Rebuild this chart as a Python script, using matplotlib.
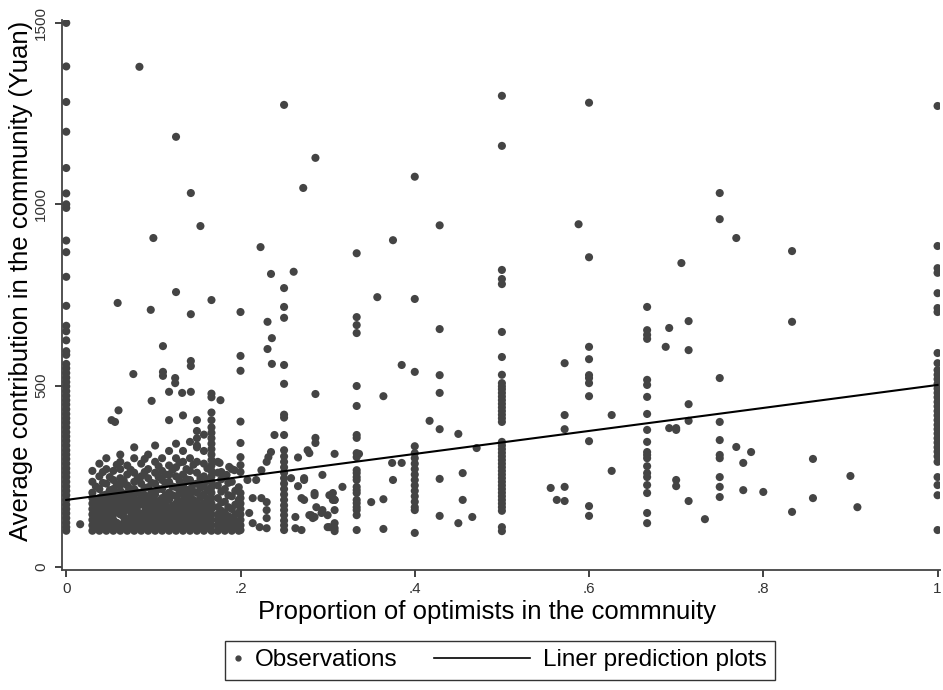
import matplotlib.pyplot as plt
from matplotlib.lines import Line2D
from matplotlib.legend_handler import HandlerBase

plt.rcParams['font.family'] = ['Liberation Sans', 'DejaVu Sans']

# columns of communities sharing the same proportion of optimists
col_x = [0.0, 1/6, 0.2, 0.25, 1/3, 0.4, 3/7, 0.5, 0.6, 2/3, 5/7, 0.75, 1.0]
y_0 = [1500, 1380, 1282, 1200, 1100, 1030, 1000, 990, 900, 868, 800, 720, 665, 650,
       625, 595, 585, 560, 548, 535, 522, 510, 498, 485, 472, 460, 448, 435, 422,
       410, 398, 385, 372, 360, 348, 335, 322, 310, 298, 285, 272, 260, 248, 235,
       222, 210, 198, 185, 172, 160, 148, 135, 122, 110, 100]
y_1_6 = [736, 478, 468, 426, 405, 385, 370, 355, 340, 325, 310, 295, 280, 265, 250,
         235, 220, 205, 190, 175, 160, 145, 130, 115, 100]
y_0_2 = [703, 582, 541, 401, 342, 303, 281, 262, 204, 190, 175, 160, 145, 130, 115, 102]
y_0_25 = [1274, 769, 717, 687, 557, 505, 420, 412, 364, 322, 305, 290, 275, 260, 245,
          230, 215, 200, 185, 170, 157, 143, 128, 115, 102]
y_1_3 = [865, 689, 667, 645, 499, 444, 364, 356, 314, 303, 267, 259, 248, 240, 221,
         212, 204, 185, 176, 165, 157, 143, 102]
y_0_4 = [1076, 739, 538, 333, 314, 300, 285, 270, 255, 240, 225, 210, 195, 180, 165, 157, 94]
y_3_7 = [942, 656, 529, 480, 380, 243, 141]
y_0_5 = [1299, 1161, 819, 794, 780, 648, 579, 530, 507, 498, 490, 480, 470, 460, 450,
         440, 430, 420, 410, 400, 345, 335, 325, 315, 305, 295, 285, 275, 265, 255,
         245, 235, 225, 215, 205, 195, 185, 175, 165, 155, 110, 99]
y_0_6 = [1280, 854, 607, 573, 529, 521, 507, 471, 347, 168, 141]
y_2_3 = [717, 653, 640, 629, 516, 502, 469, 422, 378, 345, 317, 309, 300, 278, 259,
         248, 226, 204, 149, 121]
y_5_7 = [678, 598, 449, 403, 182]
y_0_75 = [1031, 959, 521, 400, 350, 309, 300, 248, 221, 193]
y_1 = [1271, 885, 824, 811, 755, 714, 703, 590, 562, 543, 530, 518, 505, 492, 480,
       468, 455, 443, 430, 418, 405, 392, 380, 368, 355, 343, 330, 318, 305, 290,
       248, 226, 198, 102]
col_y = [y_0, y_1_6, y_0_2, y_0_25, y_1_3, y_0_4, y_3_7, y_0_5, y_0_6, y_2_3, y_5_7, y_0_75, y_1]

# dense cluster of low-proportion communities
band_x = [0.030, 0.038, 0.046, 0.054, 0.062, 0.070, 0.078, 0.086, 0.094, 0.102, 0.110,
          0.118, 0.126, 0.134, 0.142, 0.150, 0.158, 0.174, 0.182, 0.190, 0.198]
band_y = [
    [100, 115, 130, 145, 160, 175, 190, 205, 235, 265],
    [100, 115, 130, 145, 160, 175, 190, 215, 250, 285],
    [100, 115, 130, 145, 160, 175, 190, 200, 230, 270, 300],
    [100, 115, 130, 145, 160, 175, 195, 215, 240, 265],
    [100, 115, 145, 160, 175, 190, 210, 225, 245, 270, 290, 310],
    [100, 115, 130, 160, 175, 190, 205, 225, 255, 280],
    [100, 115, 130, 145, 160, 175, 190, 215, 235, 260, 300, 330],
    [100, 115, 130, 145, 175, 190, 205, 230, 250, 285],
    [100, 115, 130, 145, 160, 175, 195, 220, 245, 270, 310],
    [100, 115, 130, 145, 160, 180, 200, 230, 260, 290, 335],
    [100, 115, 130, 145, 160, 175, 190, 215, 240, 265, 300],
    [100, 115, 130, 145, 160, 185, 205, 235, 255, 280, 320],
    [100, 115, 130, 145, 160, 175, 195, 220, 250, 275, 300, 340],
    [100, 115, 130, 145, 165, 180, 200, 225, 255, 290, 320],
    [100, 115, 130, 145, 160, 175, 195, 215, 240, 265, 300, 345],
    [100, 115, 130, 145, 160, 180, 205, 230, 260, 290, 330],
    [100, 115, 130, 145, 160, 175, 200, 225, 250, 285, 320, 365],
    [100, 115, 130, 145, 165, 190, 225, 260, 290],
    [100, 115, 130, 150, 180, 215, 250],
    [100, 115, 135, 160, 195, 235, 270],
    [100, 120, 150, 185, 220],
]
band2_x = [0.034, 0.042, 0.050, 0.058, 0.066, 0.074, 0.082, 0.090, 0.098, 0.106, 0.114,
           0.122, 0.130, 0.138, 0.146, 0.154, 0.162, 0.178, 0.186, 0.194]
band2_y = [
    [108, 122, 138, 152, 168, 182, 222],
    [108, 122, 138, 152, 168, 182, 198, 232, 262],
    [108, 122, 138, 152, 168, 182, 198, 212, 248],
    [108, 122, 152, 168, 182, 205, 228, 282],
    [108, 122, 138, 152, 168, 182, 198, 238],
    [108, 122, 138, 152, 168, 182, 198, 215, 268],
    [108, 122, 138, 152, 168, 182, 205, 245],
    [108, 122, 138, 152, 168, 182, 198, 218, 262, 298],
    [108, 122, 138, 152, 168, 188, 208, 232],
    [108, 122, 138, 152, 168, 182, 215, 248, 278],
    [108, 122, 138, 152, 168, 182, 198, 228, 255],
    [108, 122, 138, 152, 168, 198, 222, 268],
    [108, 122, 138, 152, 168, 182, 210, 238, 288],
    [108, 122, 138, 152, 172, 192, 212, 242, 270],
    [108, 122, 138, 152, 168, 185, 208, 228, 282],
    [108, 122, 138, 152, 168, 192, 218, 245],
    [108, 122, 138, 152, 170, 188, 212, 238, 272],
    [108, 122, 138, 155, 178, 208, 242],
    [108, 122, 140, 165, 198, 232],
    [108, 125, 145, 172, 210],
]

# remaining scattered observations
sc_x = [0.016, 0.059, 0.097, 0.126, 0.143, 0.084, 0.126, 0.286, 0.272, 0.143, 0.154,
        0.100, 0.223, 0.235, 0.261, 0.231, 0.236, 0.231, 0.236, 0.111, 0.077, 0.111,
        0.111, 0.125, 0.125, 0.143, 0.143, 0.098, 0.118, 0.133, 0.143, 0.177, 0.052,
        0.056, 0.060, 0.118, 0.134, 0.150, 0.150, 0.150, 0.150, 0.286, 0.239, 0.286,
        0.286, 0.277, 0.266, 0.224, 0.218, 0.208, 0.258, 0.273, 0.266, 0.294, 0.317,
        0.214, 0.224, 0.230, 0.270, 0.273, 0.285, 0.302, 0.308, 0.308, 0.287, 0.281,
        0.285, 0.293, 0.210, 0.214, 0.222, 0.230, 0.230, 0.230, 0.263, 0.263, 0.270,
        0.300, 0.308, 0.308, 0.302, 0.308, 0.235, 0.232, 0.230, 0.279, 0.308, 0.187,
        0.193, 0.178, 0.184, 0.176, 0.357, 0.375, 0.588, 0.706, 0.769, 0.833, 0.833,
        0.692, 0.688, 0.385, 0.572, 0.364, 0.572, 0.626, 0.417, 0.572, 0.450, 0.471,
        0.374, 0.385, 0.375, 0.455, 0.626, 0.556, 0.572, 0.563, 0.572, 0.350, 0.364,
        0.455, 0.450, 0.466, 0.364, 0.306, 0.306, 0.273, 0.285, 0.294, 0.300, 0.279,
        0.283, 0.692, 0.700, 0.700, 0.769, 0.786, 0.777, 0.857, 0.900, 0.700, 0.700,
        0.777, 0.800, 0.857, 0.908, 0.833, 0.733, 0.336, 0.308]
sc_y = [118, 728, 709, 758, 697, 1379, 1186, 1128, 1045, 1031, 940,
        907, 882, 808, 814, 676, 631, 601, 560, 609, 532, 538,
        527, 521, 507, 568, 554, 458, 483, 480, 483, 460, 405,
        400, 432, 405, 418, 405, 375, 355, 335, 477, 364, 356,
        342, 322, 302, 267, 240, 240, 245, 245, 223, 254, 221,
        190, 190, 179, 190, 185, 198, 198, 185, 157, 165, 143,
        138, 149, 149, 121, 110, 107, 135, 157, 138, 107, 102,
        110, 121, 107, 110, 99, 317, 303, 290, 314, 312, 276,
        267, 262, 254, 287, 744, 901, 945, 838, 907, 871, 676,
        659, 607, 557, 562, 471, 419, 419, 403, 380, 367, 328,
        287, 287, 240, 259, 265, 218, 221, 185, 182, 179, 187,
        185, 121, 138, 105, 204, 185, 240, 204, 157, 143, 143,
        135, 383, 383, 378, 331, 317, 287, 298, 251, 240, 223,
        212, 207, 190, 165, 152, 132, 312, 185]

# linear prediction
fit_intercept = 185
fit_slope = 317

x_tick_vals = [0, 0.2, 0.4, 0.6, 0.8, 1]
x_tick_labels = ['0', '.2', '.4', '.6', '.8', '1']
y_tick_vals = [0, 500, 1000, 1500]

xs, ys = [], []
for cx, cy in zip(col_x, col_y):
    xs += [cx] * len(cy)
    ys += cy
for bx, by in list(zip(band_x, band_y)) + list(zip(band2_x, band2_y)):
    xs += [bx] * len(by)
    ys += by
xs += sc_x
ys += sc_y

dot_color = '#444444'
fig = plt.figure(figsize=(9.43, 6.9), dpi=100)
ax = fig.add_axes([0.066, 0.174, 0.931, 0.797])

ax.scatter(xs, ys, s=34, color=dot_color, edgecolors='none', zorder=2)
ax.plot([0, 1], [fit_intercept, fit_intercept + fit_slope], color='black', lw=1.5, zorder=3)

ax.set_xlim(-0.0046, 1.003)
ax.set_ylim(-8, 1508)
ax.set_xticks(x_tick_vals)
ax.set_xticklabels(x_tick_labels)
ax.set_yticks(y_tick_vals)
ax.tick_params(axis='both', direction='out', length=5, width=1.3, colors='#333333', labelsize=11)
ax.tick_params(axis='y', labelrotation=90, pad=5)
for lab in ax.get_yticklabels():
    lab.set_va('center')

for s in ['top', 'right']:
    ax.spines[s].set_visible(False)
for s in ['left', 'bottom']:
    ax.spines[s].set_linewidth(1.3)
    ax.spines[s].set_color('#444444')

ax.set_xlabel('Proportion of optimists in the commnuity', fontsize=18.5)
ax.xaxis.set_label_coords(0.484, -0.077)
ax.xaxis.label.set_va('center')
ax.set_ylabel('Average contribution in the community (Yuan)', fontsize=18.5)
ax.yaxis.set_label_coords(-0.047, 0.525)
ax.yaxis.label.set_va('center')


class DotHandler(HandlerBase):
    def create_artists(self, legend, orig_handle, xdescent, ydescent, width, height, fontsize, trans):
        d = Line2D([width / 2 - xdescent], [height / 2 - ydescent], marker='o', ms=3.5,
                   color=dot_color, ls='none', transform=trans)
        return [d]


class LongLineHandler(HandlerBase):
    def create_artists(self, legend, orig_handle, xdescent, ydescent, width, height, fontsize, trans):
        y = height / 2 - ydescent
        ln = Line2D([-xdescent - 63, width - xdescent], [y, y], color='black', lw=1.2, transform=trans)
        return [ln]


obs_h = Line2D([], [], ls='none', marker='o')
fit_h = Line2D([], [], color='black')
leg = fig.legend([obs_h, fit_h], ['Observations', 'Liner prediction plots'],
                 handler_map={obs_h: DotHandler(), fit_h: LongLineHandler()},
                 loc='center', bbox_to_anchor=(0.53, 0.043), ncol=2, fontsize=17.5,
                 handlelength=0.37, handletextpad=0.51, columnspacing=5.1,
                 frameon=True, fancybox=False, borderpad=0.35)
leg.get_frame().set_edgecolor('black')
leg.get_frame().set_linewidth(1.0)

fig.savefig('out.png', dpi=100)
